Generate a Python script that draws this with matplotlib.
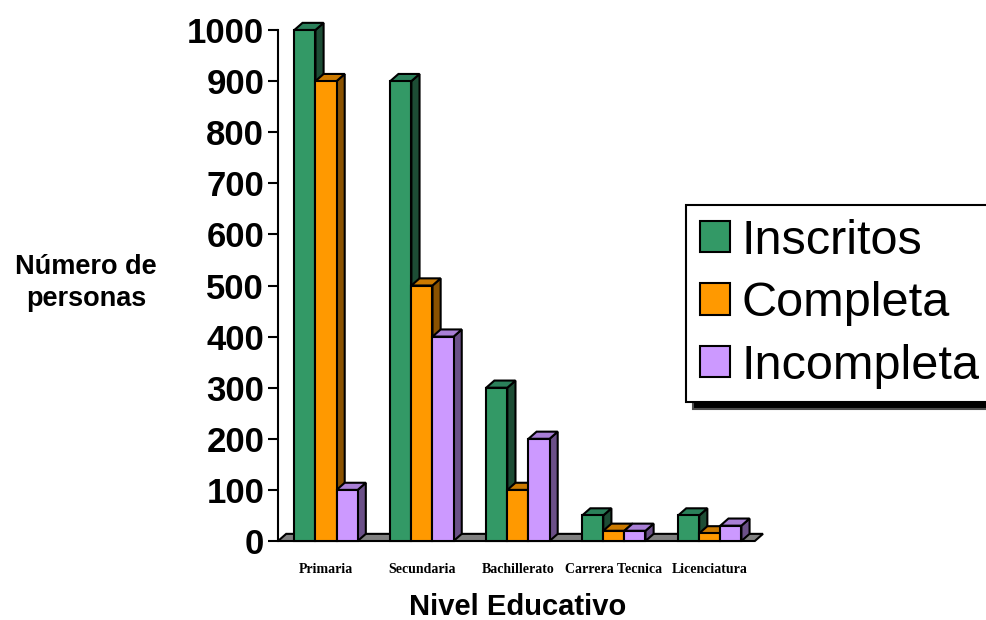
import matplotlib.pyplot as plt
from matplotlib.patches import Polygon, Patch

plt.rcParams['font.family'] = ['Liberation Sans', 'DejaVu Sans']

niveles = ["Primaria", "Secundaria", "Bachillerato", "Carrera Tecnica", "Licenciatura"]
series = ["Inscritos", "Completa", "Incompleta"]
inscritos = [1000, 900, 300, 50, 50]
completa = [900, 500, 100, 20, 15]
incompleta = [100, 400, 200, 20, 30]
valores = [inscritos, completa, incompleta]

# front, top, side
colores = [("#339966", "#2b805a", "#1d4d35"),
           ("#ff9900", "#cc7a00", "#8a5200"),
           ("#cc99ff", "#a97fd6", "#6b5088")]

w = 0.22      # ancho de barra (unidades de categoria)
dx = 0.085    # profundidad 3D en x
dy = 14       # profundidad 3D en y (unidades de valor)
lw = 1.5

fig = plt.figure(figsize=(9.87, 6.2), dpi=100)
ax = fig.add_axes([0.2817, 0.1274, 0.486, 0.8242])
ax.set_xlim(-0.5, 4.5)
ax.set_ylim(0, 1000)

# piso gris
x0, x1 = -0.5, 4.47
ax.add_patch(Polygon([(x0, 0), (x1, 0), (x1 + dx, dy), (x0 + dx, dy)],
                     closed=True, facecolor="#808080", edgecolor="black",
                     linewidth=lw, clip_on=False, zorder=1))

for j, vals in enumerate(valores):
    front, top, side = colores[j]
    z = 2 + j * 2
    for i, v in enumerate(vals):
        x = i + (j - 1) * w
        xl, xr = x - w / 2, x + w / 2
        ax.add_patch(Polygon([(xr, 0), (xr + dx, dy), (xr + dx, v + dy), (xr, v)],
                             closed=True, facecolor=side, edgecolor="black",
                             linewidth=lw, clip_on=False, zorder=z))
        ax.add_patch(Polygon([(xl, v), (xl + dx, v + dy), (xr + dx, v + dy), (xr, v)],
                             closed=True, facecolor=top, edgecolor="black",
                             linewidth=lw, clip_on=False, zorder=z))
        ax.bar(x, v, width=w, color=front, edgecolor="black", linewidth=lw,
               clip_on=False, zorder=z + 1)

for s in ["top", "right", "bottom"]:
    ax.spines[s].set_visible(False)
ax.spines["left"].set_linewidth(lw)
ax.spines["left"].set_zorder(20)

ax.set_yticks(range(0, 1001, 100))
ax.tick_params(axis="y", direction="out", length=7, width=lw, labelsize=25, pad=3)
for lab in ax.get_yticklabels():
    lab.set_fontweight("bold")

ax.set_xticks(range(len(niveles)))
ax.set_xticklabels(niveles, family=["Liberation Serif"], fontweight="bold", fontsize=10)
ax.tick_params(axis="x", length=0, pad=16)

fig.text(86 / 987, 1 - 283 / 620, "Número de\npersonas", ha="center", va="center",
         fontsize=19.5, fontweight="bold", linespacing=1.3)
fig.text(518 / 987, 1 - 607 / 620, "Nivel Educativo", ha="center", va="center",
         fontsize=21, fontweight="bold")

handles = [Patch(facecolor=c[0], edgecolor="black", linewidth=lw) for c in colores]
leg = fig.legend(handles, series, loc="upper left",
                 bbox_to_anchor=(686 / 987, 1 - 205 / 620), fontsize=35,
                 frameon=True, fancybox=False, edgecolor="black",
                 shadow={"facecolor": "black", "alpha": 1, "ox": 5, "oy": -5},
                 borderpad=0.28, handlelength=0.62, handleheight=0.62,
                 handletextpad=0.25, labelspacing=0.36, borderaxespad=0)
leg.get_frame().set_linewidth(lw)

fig.savefig("out.png", dpi=100)
